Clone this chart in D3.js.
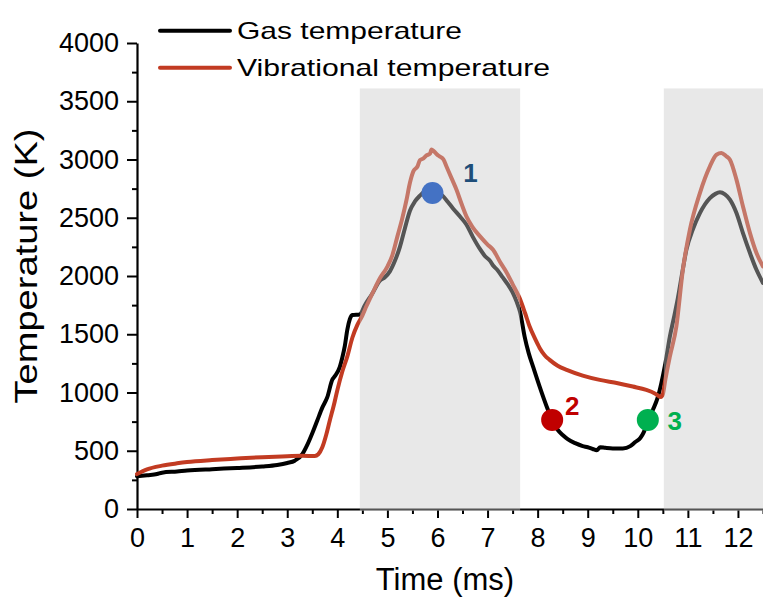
<!DOCTYPE html>
<html>
<head>
<meta charset="utf-8">
<script src="https://cdn.jsdelivr.net/npm/d3@7"></script>
<style>
  html, body { margin: 0; padding: 0; background: #fff; }
  svg { display: block; }
  text { font-family: Arial, "Liberation Sans", sans-serif; }
</style>
</head>
<body>
<svg id="chart" width="763" height="599"></svg>
<script>
// Gas temperature trace (time in ms, temperature in K)
const gasTime = [0, 0.2, 0.4, 0.5, 0.8, 1, 1.5, 2, 2.5, 2.8, 3, 3.15, 3.3, 3.4, 3.5, 3.6, 3.7, 3.8, 3.9, 3.95,
  4.05, 4.1, 4.15, 4.2, 4.25, 4.3, 4.45, 4.55, 4.7, 4.85, 4.95, 5.05, 5.15, 5.25, 5.35, 5.45, 5.55, 5.65, 5.75, 5.85,
  5.95, 6.1, 6.2, 6.31, 6.45, 6.58, 6.7, 6.85, 6.95, 7.05, 7.11, 7.2, 7.3, 7.4, 7.5, 7.58, 7.65, 7.74, 7.82, 7.91,
  8.04, 8.18, 8.29, 8.4, 8.5, 8.6, 8.75, 8.9, 9.0, 9.1, 9.18, 9.25, 9.35, 9.5, 9.7, 9.85, 9.95, 10.05, 10.12, 10.2,
  10.3, 10.4, 10.47, 10.55, 10.64, 10.72, 10.8, 10.9, 10.97, 11.1, 11.24, 11.44, 11.55, 11.64, 11.74, 11.84, 11.97,
  12.1, 12.24, 12.37, 12.5];
const gasTemp = [280, 290, 300, 312, 322, 330, 342, 352, 365, 378, 395, 415, 470, 550, 650, 760, 870, 960, 1110, 1140,
  1220, 1300, 1400, 1540, 1630, 1665, 1670, 1750, 1850, 1960, 1990, 2040, 2130, 2250, 2410, 2560, 2640, 2690, 2730, 2745,
  2725, 2690, 2640, 2580, 2510, 2440, 2340, 2230, 2170, 2130, 2090, 2050, 1990, 1930, 1860, 1780, 1690, 1480, 1340, 1220,
  1050, 880, 765, 680, 635, 600, 565, 540, 530, 515, 505, 530, 525, 520, 520, 540, 575, 610, 660, 760,
  850, 960, 1080, 1250, 1480, 1640, 1810, 2060, 2225, 2400, 2540, 2669, 2705, 2718, 2700, 2655, 2540,
  2368, 2197, 2053, 1940];

// Vibrational temperature trace
const vibTime = [0, 0.2, 0.5, 0.8, 1, 1.5, 2, 2.5, 3, 3.3, 3.55, 3.62, 3.7, 3.78, 3.85, 3.93, 4.0, 4.1, 4.2, 4.3,
  4.4, 4.5, 4.58, 4.7, 4.85, 5.0, 5.1, 5.2, 5.3, 5.38, 5.45, 5.52, 5.6, 5.65, 5.72, 5.78, 5.85, 5.88, 5.93, 6.0,
  6.05, 6.12, 6.18, 6.28, 6.38, 6.48, 6.58, 6.7, 6.85, 7.0, 7.11, 7.25, 7.38, 7.5, 7.64, 7.75, 7.84, 7.95, 8.04, 8.14,
  8.24, 8.4, 8.58, 8.9, 9.24, 9.6, 9.9, 10.17, 10.35, 10.46, 10.5, 10.55, 10.64, 10.77, 10.9, 11.04, 11.24, 11.44,
  11.57, 11.67, 11.76, 11.84, 11.97, 12.1, 12.24, 12.37, 12.5];
const vibTemp = [300, 340, 372, 392, 403, 420, 433, 445, 453, 457, 455, 470, 530, 640, 760, 890, 1020, 1180, 1310, 1470,
  1580, 1660, 1740, 1850, 1980, 2080, 2180, 2340, 2500, 2650, 2800, 2900, 2940, 2995, 3010, 3035, 3050, 3085, 3070, 3040,
  3025, 3000, 2940, 2840, 2740, 2620, 2510, 2420, 2340, 2270, 2225, 2120, 2030, 1930, 1810, 1680, 1566, 1460, 1383, 1320,
  1280, 1230, 1194, 1145, 1108, 1080, 1051, 1022, 990, 962, 985, 1110, 1308, 1566, 2053, 2397, 2712, 2941,
  3041, 3055, 3030, 2998, 2827, 2597, 2368, 2197, 2082];

// Shaded discharge intervals (ms)
const bandStart = [4.45, 10.52];
const bandEnd = [7.65, 12.5];
const bandTopTemp = 3610;

// Numbered points on the gas temperature curve
const markerTime = [5.9, 8.29, 10.2];
const markerTemp = [2712, 765, 765];
const markerLabels = ["1", "2", "3"];
const markerFill = ["#4472c4", "#c00000", "#00b050"];
const markerTextColor = ["#1f4e79", "#c00000", "#00b050"];

// Axis ticks
const xMajorTicks = [0, 1, 2, 3, 4, 5, 6, 7, 8, 9, 10, 11, 12];
const xMinorTicks = [0.5, 1.5, 2.5, 3.5, 4.5, 5.5, 6.5, 7.5, 8.5, 9.5, 10.5, 11.5, 12.5];
const yMajorTicks = [0, 500, 1000, 1500, 2000, 2500, 3000, 3500, 4000];
const yMinorTicks = [250, 750, 1250, 1750, 2250, 2750, 3250, 3750];

const seriesNames = ["Gas temperature", "Vibrational temperature"];
const seriesColors = ["#000000", "#c23b22"];

const svg = d3.select("#chart");
const x = d3.scaleLinear().domain([0, 12.5]).range([137, 763]);
const y = d3.scaleLinear().domain([0, 4000]).range([509, 43]);

// Axes: minor ticks first, then major ticks with labels
const axisColor = "#000";
const gx = svg.append("g").attr("transform", `translate(0,${y(0)})`);
gx.call(d3.axisBottom(x).tickValues(xMinorTicks).tickSize(5).tickFormat(""))
  .call(g => g.select(".domain").remove());
const gxMajor = svg.append("g").attr("transform", `translate(0,${y(0)})`)
  .call(d3.axisBottom(x).tickValues(xMajorTicks).tickSize(9).tickSizeOuter(0).tickPadding(10).tickFormat(d3.format("d")));
gxMajor.select(".domain").attr("stroke-width", 2.2);

const gy = svg.append("g").attr("transform", `translate(${x(0)},0)`);
gy.call(d3.axisLeft(y).tickValues(yMinorTicks).tickSize(5).tickFormat(""))
  .call(g => g.select(".domain").remove());
const gyMajor = svg.append("g").attr("transform", `translate(${x(0)},0)`)
  .call(d3.axisLeft(y).tickValues(yMajorTicks).tickSize(10).tickSizeOuter(0).tickPadding(8).tickFormat(d3.format("d")));
gyMajor.select(".domain").attr("stroke-width", 2.2);

svg.selectAll(".tick line").attr("stroke", axisColor).attr("stroke-width", 2);
svg.selectAll(".tick text")
  .attr("font-family", "Arial, 'Liberation Sans', sans-serif")
  .attr("font-size", 27)
  .attr("fill", "#000");

// Temperature traces
const line = d3.line()
  .x(d => x(d[0]))
  .y(d => y(d[1]))
  .curve(d3.curveMonotoneX);

const gasData = gasTime.map((t, i) => [t, gasTemp[i]]);
const vibData = vibTime.map((t, i) => [t, vibTemp[i]]);

svg.append("path").datum(gasData)
  .attr("d", line).attr("fill", "none")
  .attr("stroke", seriesColors[0]).attr("stroke-width", 4)
  .attr("stroke-linejoin", "round").attr("stroke-linecap", "round");
svg.append("path").datum(vibData)
  .attr("d", line).attr("fill", "none")
  .attr("stroke", seriesColors[1]).attr("stroke-width", 4)
  .attr("stroke-linejoin", "round").attr("stroke-linecap", "round");

// Translucent shading over the discharge intervals
svg.selectAll("rect.band")
  .data(bandStart.map((s, i) => [s, bandEnd[i]]))
  .join("rect")
  .attr("class", "band")
  .attr("x", d => x(d[0]))
  .attr("width", d => x(d[1]) - x(d[0]))
  .attr("y", y(bandTopTemp))
  .attr("height", y(0) + 2 - y(bandTopTemp))
  .attr("fill", "#c8c8c8")
  .attr("fill-opacity", 0.424);

// Numbered markers
const markers = markerTime.map((t, i) => ({ t, v: markerTemp[i], label: markerLabels[i], fill: markerFill[i], color: markerTextColor[i] }));
svg.selectAll("circle.marker").data(markers).join("circle")
  .attr("class", "marker")
  .attr("cx", d => x(d.t)).attr("cy", d => y(d.v)).attr("r", 11)
  .attr("fill", d => d.fill);

const labelOffset = [[38, -20], [20, -14], [27, 1]];
svg.selectAll("text.marker-label").data(markers).join("text")
  .attr("class", "marker-label")
  .attr("x", (d, i) => x(d.t) + labelOffset[i][0])
  .attr("y", (d, i) => y(d.v) + labelOffset[i][1])
  .attr("dy", "0.36em")
  .attr("text-anchor", "middle")
  .attr("font-family", "Lato, 'Open Sans', sans-serif")
  .attr("font-weight", "bold")
  .attr("font-size", 26)
  .attr("fill", d => d.color)
  .text(d => d.label);

// Legend
const legendY = [30.7, 67.7];
const legendWidths = [225, 313];
const legend = svg.append("g");
seriesNames.forEach((name, i) => {
  legend.append("line")
    .attr("x1", 160).attr("x2", 230)
    .attr("y1", legendY[i]).attr("y2", legendY[i])
    .attr("stroke", seriesColors[i]).attr("stroke-width", 4)
    .attr("stroke-linecap", "round");
  legend.append("text")
    .attr("x", 237).attr("y", legendY[i])
    .attr("dy", "0.36em")
    .attr("font-size", 24)
    .attr("textLength", legendWidths[i])
    .attr("lengthAdjust", "spacingAndGlyphs")
    .attr("fill", "#000")
    .text(name);
});

// Axis titles
svg.append("text")
  .attr("x", 445).attr("y", 590)
  .attr("text-anchor", "middle")
  .attr("font-size", 31)
  .attr("fill", "#000")
  .text("Time (ms)");

svg.append("text")
  .attr("transform", "translate(37,266) rotate(-90)")
  .attr("text-anchor", "middle")
  .attr("font-size", 31)
  .attr("textLength", 275)
  .attr("lengthAdjust", "spacingAndGlyphs")
  .attr("fill", "#000")
  .text("Temperature (K)");
</script>
</body>
</html>
